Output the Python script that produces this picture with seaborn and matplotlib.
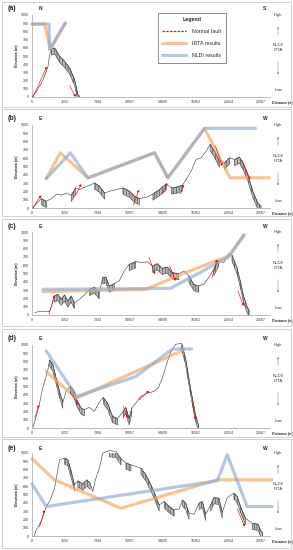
import numpy as np
import pandas as pd
import seaborn as sns
import matplotlib.pyplot as plt
from matplotlib.lines import Line2D
from matplotlib.patches import Rectangle

sns.set_theme(style='white')
plt.rcParams['font.family'] = ['Liberation Sans', 'DejaVu Sans']
plt.rcParams['hatch.linewidth'] = 0.4

x_ticks = [0, 3652, 7304, 10957, 14609, 18262, 21914, 25567]
y_ticks = list(range(0, 1001, 100))
panel_labels = ['(a)', '(b)', '(c)', '(d)', '(e)']
left_dir = ['N', 'E', 'E', 'E', 'E']
right_dir = ['S', 'W', 'W', 'W', 'W']

# (a) N-S profile
a_prof_x = [0, 557, 1152, 1598, 1784, 1970, 2155, 2527, 3084, 3642, 4200, 4757, 5128, 5314]
a_prof_y = [0, 81, 191, 313, 374, 516, 585, 598, 496, 435, 354, 211, 28, 8]
a_ribbons = [(2155, 5314)]
a_irta_x = [0, 1412, 2044, 3716]
a_irta_y = [890, 890, 585, 902]
a_nldi_x = [0, 1895, 1970, 3716]
a_nldi_y = [890, 890, 577, 902]
a_faults = [(111, 0, 1672, 374), (4200, 138, 4868, 0)]

# (b) E-W profile
b_prof_x = [111, 557, 1040, 1598, 2155, 2787, 3270, 3828, 4385, 4868, 5314, 5871, 6429,
            6986, 7543, 8101, 8658, 9401, 10145, 10888, 11445, 12003, 12746, 13489, 14232,
            14975, 15532, 16089, 16758, 17204, 17762, 18319, 18876, 19434, 19880, 20363,
            20920, 21478, 22035, 22593, 23150, 23522, 24079, 24637, 25194, 25566]
b_prof_y = [0, 60, 113, 81, 113, 169, 153, 181, 153, 242, 222, 250, 274, 302, 262, 181,
            202, 222, 242, 202, 141, 113, 129, 169, 222, 290, 242, 250, 274, 343, 444, 585,
            605, 685, 766, 685, 565, 544, 605, 585, 613, 544, 403, 202, 60, 20]
b_ribbons = [(1000, 1700), (4385, 5000), (6900, 8110), (10100, 12010), (13480, 14980),
             (15530, 16800), (19880, 21000), (21470, 22040), (22590, 25566)]
b_irta_x = [1598, 3159, 6243, 13675, 15161, 19249, 22110, 26495]
b_irta_y = [355, 665, 363, 665, 363, 960, 363, 363]
b_nldi_x = [1598, 4273, 6243, 13675, 15161, 19249, 24934]
b_nldi_y = [355, 665, 363, 665, 363, 960, 960]
b_faults = [(111, 8, 1040, 153), (4868, 153, 5500, 290), (11334, 40, 11928, 222),
            (14530, 169, 15087, 302), (16573, 169, 16945, 282), (20475, 746, 21218, 504),
            (23448, 573, 24340, 343)]

# (c) E-W profile
c_prof_x = [296, 666, 1961, 2257, 2516, 2886, 3256, 3626, 3996, 4366, 4736, 5291, 5846,
            6401, 6956, 7511, 7881, 8251, 8621, 9176, 9731, 10286, 10841, 11581, 12321,
            12876, 13431, 13986, 14541, 15096, 15651, 16391, 16946, 17501, 18056, 18611,
            19166, 19721, 20276, 20831, 21386, 21941, 22311, 22866, 23236, 23606, 23976, 24235]
c_prof_y = [28, 40, 40, 137, 229, 249, 189, 241, 169, 229, 149, 189, 241, 309, 337, 269,
            450, 458, 349, 378, 410, 530, 610, 643, 631, 643, 590, 618, 562, 578, 510, 498,
            530, 470, 369, 349, 369, 450, 550, 659, 631, 739, 723, 570, 410, 229, 108, 48]
c_ribbons = [(2516, 4736), (6401, 7511), (7881, 9176), (10841, 11581), (13431, 16391),
             (17501, 18611), (20276, 21000), (22311, 24235)]
c_irta_x = [1221, 12690, 17131, 21941, 23717]
c_irta_y = [281, 309, 510, 711, 964]
c_nldi_x = [1221, 15466, 21941, 23606]
c_nldi_y = [309, 321, 699, 964]
c_faults = [(1887, 8, 2516, 241), (13061, 691, 13727, 490), (15355, 590, 16021, 410),
            (20091, 450, 20646, 671), (22977, 289, 23606, 108)]

# (d) E-W profile
d_prof_x = [111, 407, 777, 1147, 1517, 1776, 1961, 2331, 2701, 3071, 3441, 3811, 4255,
            4625, 4995, 5476, 5846, 6401, 6956, 7511, 7955, 8436, 8991, 9546, 10175, 10471,
            10841, 11137, 11581, 12136, 12876, 13616, 14097, 14541, 14985, 15466, 16021,
            16687, 17131, 17686, 18241, 18611]
d_prof_y = [8, 120, 260, 460, 600, 700, 820, 760, 600, 440, 312, 440, 500, 460, 340, 240,
            220, 248, 200, 312, 368, 300, 140, 112, 200, 248, 112, 240, 300, 380, 420, 440,
            488, 600, 760, 912, 1008, 1020, 840, 480, 160, 20]
d_ribbons = [(1961, 3441), (4255, 5846), (7955, 9546), (10175, 11137), (16687, 18611)]
d_irta_x = [1591, 4921, 16946]
d_irta_y = [680, 360, 940]
d_nldi_x = [1591, 4995, 11581, 15651, 17797]
d_nldi_y = [928, 380, 620, 952, 952]
d_faults = [(296, 120, 777, 280), (4292, 432, 5180, 272), (10212, 260, 10656, 120),
            (11951, 340, 13061, 448), (17871, 300, 18241, 100)]

# (e) E-W profile
e_prof_x = [222, 482, 778, 1149, 1593, 2038, 2519, 2779, 3075, 3631, 4001, 4372, 4742,
            5113, 5669, 6113, 6484, 6780, 7077, 7521, 7892, 8633, 9374, 9930, 10485, 11041,
            11597, 12153, 12709, 13265, 13746, 14191, 14747, 15302, 15858, 16414, 16784,
            17155, 17525, 18081, 18637, 19007, 19377, 19933, 20303, 20859, 21229, 21785,
            22526, 22897, 23267, 23823, 24564, 25230, 25490, 25749]
e_prof_y = [0, 73, 125, 214, 355, 435, 576, 737, 919, 939, 919, 778, 617, 665, 625, 677,
            637, 536, 677, 818, 999, 1028, 1020, 931, 879, 858, 838, 818, 737, 617, 496, 375,
            415, 355, 314, 326, 435, 395, 274, 262, 395, 415, 262, 375, 463, 455, 286, 463,
            516, 476, 355, 214, 153, 141, 73, 32]
e_ribbons = [(3631, 4742), (5113, 6484), (8633, 9930), (10485, 11041), (12153, 14191),
             (14747, 15858), (16784, 17525), (18637, 19377), (19933, 21229), (22526, 23823),
             (24564, 25749)]
e_irta_x = [0, 2519, 9930, 20674, 26787]
e_irta_y = [931, 677, 334, 677, 677]
e_nldi_x = [0, 1593, 20674, 21785, 24008, 26787]
e_nldi_y = [629, 355, 665, 979, 355, 355]
e_faults = [(852, 113, 1408, 314), (22897, 326, 23749, 113)]

panels = [
    (a_prof_x, a_prof_y, a_ribbons, a_irta_x, a_irta_y, a_nldi_x, a_nldi_y, a_faults),
    (b_prof_x, b_prof_y, b_ribbons, b_irta_x, b_irta_y, b_nldi_x, b_nldi_y, b_faults),
    (c_prof_x, c_prof_y, c_ribbons, c_irta_x, c_irta_y, c_nldi_x, c_nldi_y, c_faults),
    (d_prof_x, d_prof_y, d_ribbons, d_irta_x, d_irta_y, d_nldi_x, d_nldi_y, d_faults),
    (e_prof_x, e_prof_y, e_ribbons, e_irta_x, e_irta_y, e_nldi_x, e_nldi_y, e_faults),
]

ORANGE = '#f0a35e'
BLUE = '#8ea9cf'
W, H = 293, 550

# axes placement in pixels: (top, bottom) of the 0-1000 range
ax_px = [(15, 97), (125, 208), (232, 315), (345, 428), (453, 536)]
frame_px = [(2, 107), (109, 216), (219, 326), (329, 437), (439, 548)]
label_px = [9, 119, 227, 339, 448]
AX_L, AX_R = 32, 269.5

fig = plt.figure(figsize=(W / 100, H / 100), dpi=100)
fig.patch.set_facecolor('white')

for i, (px, py, ribs, ix, iy, nx, ny, faults) in enumerate(panels):
    top, bot = ax_px[i]
    ax = fig.add_axes([AX_L / W, 1 - bot / H, (AX_R - AX_L) / W, (bot - top) / H])
    ax.set_facecolor('none')

    prof = pd.DataFrame({'x': px, 'y': py})
    # hatched "ribbons" along the steep stretches of the profile
    for x0, x1 in ribs:
        seg = prof[(prof.x >= x0) & (prof.x <= x1)]
        ax.fill_between(seg.x, seg.y, seg.y - 75, facecolor='#b8b8b8',
                        edgecolor='#3c3c3c', hatch='||||||', lw=0.35, zorder=2)
    sns.lineplot(data=prof, x='x', y='y', ax=ax, color='#4a4a4a', lw=0.45,
                 sort=False, estimator=None, zorder=3)

    for xs, ys, col in [(ix, iy, ORANGE), (nx, ny, BLUE)]:
        sns.lineplot(x=xs, y=ys, ax=ax, color=col, lw=2.3, alpha=0.65,
                     sort=False, estimator=None, zorder=4)

    for x0, y0, x1, y1 in faults:
        ax.annotate('', xy=(x1, y1), xytext=(x0, y0),
                    arrowprops=dict(arrowstyle='-|>', color='red', lw=0.5, ls=(0, (2, 1)),
                                    mutation_scale=3, shrinkA=0, shrinkB=0), zorder=5)

    ax.set_xlim(0, 26500)
    ax.set_ylim(0, 1000)
    ax.set_xticks(x_ticks)
    ax.set_yticks(y_ticks)
    ax.tick_params(labelsize=2.6, length=1.2, width=0.3, pad=1, colors='#333333')
    for s in ['top', 'right']:
        ax.spines[s].set_visible(False)
    for s in ['left', 'bottom']:
        ax.spines[s].set_color('#a0a0a0')
        ax.spines[s].set_linewidth(0.5)
    for l in ax.get_lines():
        l.set_clip_on(False)
    ax.set_xlabel('')
    ax.set_ylabel('Elevation (m)', fontsize=2.6, fontweight='bold', labelpad=1.5)

    ax.text(1.055, -0.075, 'Distance (m)', transform=ax.transAxes, fontsize=2.6,
            fontweight='bold', ha='center', va='center')

    # High / Low scale on the right
    tr = ax.get_yaxis_transform()
    xr = (278 - AX_L) / (AX_R - AX_L)
    ax.text(xr, 1000, 'High', transform=tr, fontsize=3, ha='center', va='center', color='#333333')
    ax.text(xr, 600, 'NLDI/\nIRTA', transform=tr, fontsize=3, ha='center', va='center',
            color='#333333', linespacing=1.3)
    ax.text(xr, 85, 'Low', transform=tr, fontsize=3, ha='center', va='center', color='#333333')
    ax.annotate('', xy=(xr, 890), xytext=(xr, 720), xycoords=tr, textcoords=tr,
                arrowprops=dict(arrowstyle='->', lw=0.3, color='#555555', mutation_scale=3))
    ax.annotate('', xy=(xr, 240), xytext=(xr, 460), xycoords=tr, textcoords=tr,
                arrowprops=dict(arrowstyle='->', lw=0.3, color='#555555', mutation_scale=3))

    if i == 0:
        handles = [Line2D([], [], color='#e02020', ls=(0, (2, 1)), lw=0.9),
                   Line2D([], [], color=ORANGE, lw=2.3, alpha=0.65),
                   Line2D([], [], color=BLUE, lw=2.3, alpha=0.65)]
        leg = ax.legend(handles, ['Normal fault', 'IRTA results', 'NLDI results'],
                        title='Legend', loc='upper left', bbox_to_anchor=(0.518, 1.06),
                        fontsize=3.8, title_fontsize=3.8, frameon=True, fancybox=False,
                        handlelength=4.5, labelspacing=1.3, borderpad=0.9, handletextpad=1.2)
        leg.get_frame().set_edgecolor('#555555')
        leg.get_frame().set_linewidth(0.6)
        leg.get_title().set_fontweight('bold')

    ty = 1 - label_px[i] / H
    fig.text(8 / W, ty, panel_labels[i], fontsize=5, fontweight='bold', ha='left', va='center')
    fig.text(40 / W, ty, left_dir[i], fontsize=3.5, fontweight='bold', ha='center', va='center')
    fig.text(265 / W, ty, right_dir[i], fontsize=3.5, fontweight='bold', ha='center', va='center')

    f0, f1 = frame_px[i]
    fig.add_artist(Rectangle((2 / W, 1 - f1 / H), 289 / W, (f1 - f0) / H,
                             transform=fig.transFigure, fill=False, ec='#c8c8c8', lw=0.6))

fig.savefig('out.png', dpi=100)
